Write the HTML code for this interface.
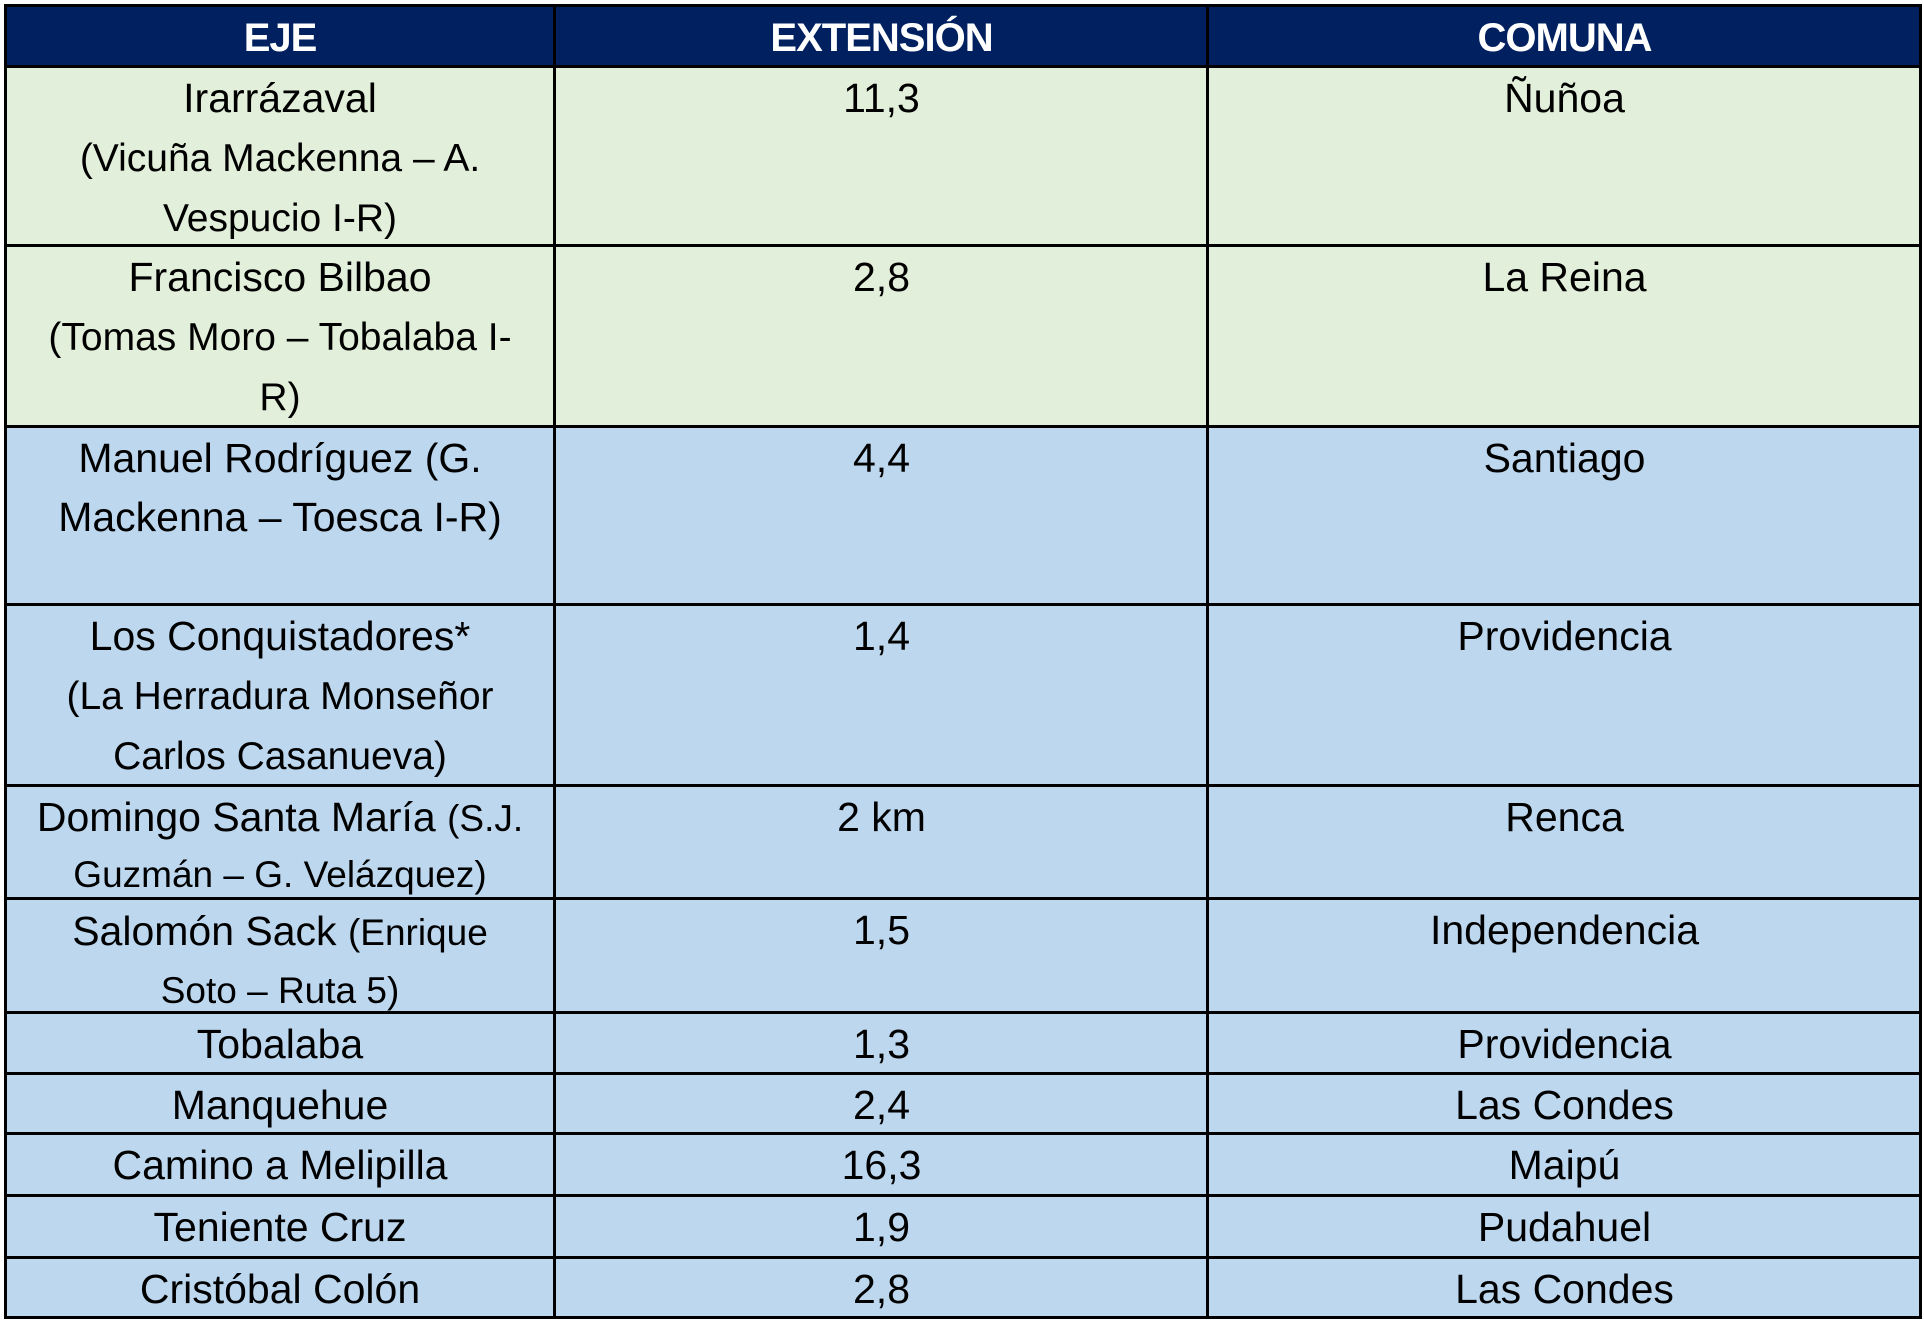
<!DOCTYPE html>
<html><head><meta charset="utf-8"><style>
html,body{margin:0;padding:0;background:#fff;width:1924px;height:1324px;overflow:hidden;position:relative}
.r{position:absolute;left:5px;width:1916px}
.c{position:absolute;top:0;bottom:0;text-align:center;white-space:nowrap;font-family:"Liberation Sans",sans-serif;font-size:41px;line-height:59px;padding-top:3px;box-sizing:border-box;color:#000}
.c1{left:0;width:550px}.c2{left:550px;width:653px}.c3{left:1203px;width:713px}
.g{background:#E2EFDA}.b{background:#BDD7EE}
.h{background:#002060}
.h .c{color:#fff;font-weight:bold;font-size:40px;letter-spacing:-1px;line-height:61px;padding-top:3px}
.s{font-size:39px}
.hl{position:absolute;left:4px;width:1918px;height:3px;background:#000}
.vl{position:absolute;top:4px;height:1315px;width:3px;background:#000}
</style></head><body>
<div class="r h" style="top:5px;height:61px"><div class="c c1">EJE</div><div class="c c2">EXTENSIÓN</div><div class="c c3">COMUNA</div></div>
<div class="r g" style="top:66px;height:179px"><div class="c c1">Irarrázaval<br><span class="s">(Vicuña Mackenna – A.<br>Vespucio I-R)</span></div><div class="c c2">11,3</div><div class="c c3">Ñuñoa</div></div>
<div class="r g" style="top:245px;height:181px"><div class="c c1">Francisco Bilbao<br><span class="s">(Tomas Moro – Tobalaba I-<br>R)</span></div><div class="c c2">2,8</div><div class="c c3">La Reina</div></div>
<div class="r b" style="top:426px;height:178px"><div class="c c1">Manuel Rodríguez (G.<br>Mackenna – Toesca I-R)</div><div class="c c2">4,4</div><div class="c c3">Santiago</div></div>
<div class="r b" style="top:604px;height:181px"><div class="c c1">Los Conquistadores*<br><span class="s">(La Herradura Monseñor<br>Carlos Casanueva)</span></div><div class="c c2">1,4</div><div class="c c3">Providencia</div></div>
<div class="r b" style="top:785px;height:113px"><div class="c c1" style="line-height:54px;padding-top:5px">Domingo Santa María <span style="font-size:37px">(S.J.</span><br><span style="font-size:37px">Guzmán – G. Velázquez)</span></div><div class="c c2">2 km</div><div class="c c3">Renca</div></div>
<div class="r b" style="top:898px;height:114px"><div class="c c1" style="line-height:56px;padding-top:5px">Salomón Sack <span style="font-size:37px">(Enrique</span><br><span style="font-size:37px">Soto – Ruta 5)</span></div><div class="c c2">1,5</div><div class="c c3">Independencia</div></div>
<div class="r b" style="top:1012px;height:61px"><div class="c c1">Tobalaba</div><div class="c c2">1,3</div><div class="c c3">Providencia</div></div>
<div class="r b" style="top:1073px;height:60px"><div class="c c1">Manquehue</div><div class="c c2">2,4</div><div class="c c3">Las Condes</div></div>
<div class="r b" style="top:1133px;height:62px"><div class="c c1">Camino a Melipilla</div><div class="c c2">16,3</div><div class="c c3">Maipú</div></div>
<div class="r b" style="top:1195px;height:62px"><div class="c c1">Teniente Cruz</div><div class="c c2">1,9</div><div class="c c3">Pudahuel</div></div>
<div class="r b" style="top:1257px;height:60px"><div class="c c1">Cristóbal Colón</div><div class="c c2">2,8</div><div class="c c3">Las Condes</div></div>
<div class="hl" style="top:4px"></div><div class="hl" style="top:65px"></div><div class="hl" style="top:244px"></div><div class="hl" style="top:425px"></div><div class="hl" style="top:603px"></div><div class="hl" style="top:784px"></div><div class="hl" style="top:897px"></div><div class="hl" style="top:1011px"></div><div class="hl" style="top:1072px"></div><div class="hl" style="top:1132px"></div><div class="hl" style="top:1194px"></div><div class="hl" style="top:1256px"></div><div class="hl" style="top:1316px"></div>
<div class="vl" style="left:4px"></div><div class="vl" style="left:553px"></div><div class="vl" style="left:1206px"></div><div class="vl" style="left:1919px"></div>
</body></html>
